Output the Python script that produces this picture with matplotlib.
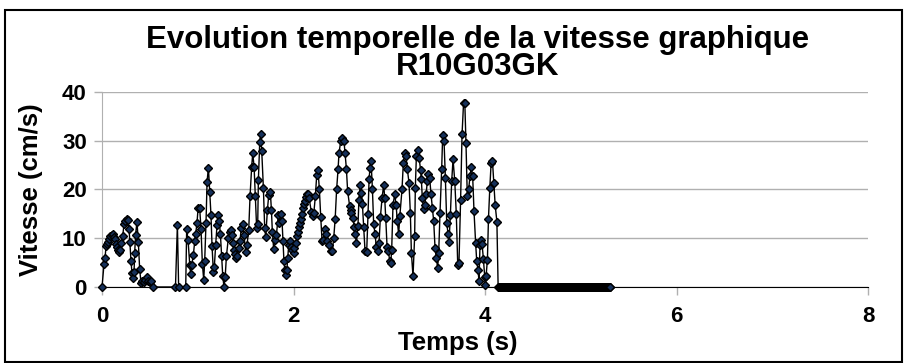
import numpy as np
import matplotlib
matplotlib.use("Agg")
import matplotlib.pyplot as plt
from matplotlib.patches import Rectangle

plt.rcParams['font.family'] = ['Liberation Sans', 'DejaVu Sans']
plt.rcParams['font.weight'] = 'bold'

# points (temps en s, vitesse en cm/s)
temps = [
    0.0, 0.021, 0.031, 0.042, 0.052, 0.063, 0.073, 0.087, 0.101, 0.111, 0.122, 0.132,
    0.143, 0.157, 0.167, 0.178, 0.191, 0.202, 0.216, 0.230, 0.244, 0.258, 0.268, 0.282,
    0.291, 0.302, 0.313, 0.324, 0.334, 0.341, 0.350, 0.365, 0.379, 0.393, 0.407, 0.418,
    0.435, 0.452, 0.470, 0.480, 0.498, 0.515, 0.532,
    0.767, 0.787, 0.800,
    0.874, 0.884, 0.898, 0.916, 0.926, 0.937, 0.954, 0.968, 0.978, 0.992, 1.003, 1.020,
    1.034, 1.048, 1.062, 1.072, 1.086, 1.097, 1.111, 1.125, 1.138, 1.149, 1.163, 1.173,
    1.187, 1.201, 1.211, 1.224, 1.236, 1.249, 1.261, 1.274, 1.286, 1.299, 1.319, 1.337,
    1.344, 1.354, 1.368, 1.379, 1.393, 1.403, 1.413, 1.427, 1.441, 1.455, 1.469, 1.483,
    1.500, 1.514, 1.532, 1.546, 1.563, 1.574, 1.588, 1.601, 1.615, 1.626, 1.633, 1.647,
    1.657, 1.668, 1.685, 1.699, 1.710, 1.727, 1.741, 1.758, 1.769, 1.779, 1.793, 1.803,
    1.821, 1.841, 1.852, 1.866, 1.880, 1.890, 1.900, 1.910, 1.920, 1.930, 1.940, 1.950,
    1.960, 1.970, 1.985, 2.000, 2.010, 2.030, 2.040, 2.050, 2.060, 2.070, 2.080, 2.090,
    2.100, 2.110, 2.120, 2.130, 2.140, 2.150, 2.162, 2.186, 2.200, 2.212, 2.228, 2.242,
    2.256, 2.270, 2.284, 2.298, 2.312, 2.325, 2.340, 2.354, 2.370, 2.388, 2.405, 2.420,
    2.435, 2.450, 2.465, 2.475, 2.493, 2.507, 2.527, 2.538, 2.552, 2.565, 2.586, 2.597,
    2.604, 2.621, 2.635, 2.645, 2.656, 2.673, 2.683, 2.697, 2.708, 2.719, 2.733, 2.747,
    2.764, 2.778, 2.789, 2.799, 2.810, 2.824, 2.837, 2.851, 2.865, 2.879, 2.893, 2.907,
    2.925, 2.942, 2.952, 2.963, 2.977, 2.991, 3.005, 3.015, 3.025, 3.039, 3.057, 3.071,
    3.084, 3.098, 3.110, 3.133, 3.147, 3.161, 3.175, 3.189, 3.206, 3.220, 3.231, 3.248,
    3.265, 3.272, 3.283, 3.297, 3.311, 3.328, 3.335, 3.345, 3.359, 3.370, 3.384, 3.398,
    3.408, 3.422, 3.436, 3.450, 3.464, 3.478, 3.492, 3.505, 3.516, 3.530, 3.547, 3.558,
    3.572, 3.586, 3.600, 3.614, 3.624, 3.638, 3.652, 3.666, 3.684, 3.700, 3.715, 3.728,
    3.745, 3.760, 3.776, 3.789, 3.801, 3.815, 3.829, 3.843, 3.857, 3.871, 3.885, 3.902,
    3.913, 3.927, 3.937, 3.948, 3.962, 3.969, 3.983, 3.997, 4.004, 4.011, 4.025, 4.036,
    4.050, 4.064, 4.078, 4.092, 4.106, 4.124,
]
vitesse = [
    0.0, 4.8, 5.9, 8.4, 8.8, 9.3, 9.8, 10.5, 10.7, 10.8, 10.3, 9.8,
    8.8, 8.1, 7.5, 7.2, 7.5, 9.1, 10.5, 12.9, 13.6, 13.9, 13.8, 11.8,
    9.2, 5.4, 2.9, 1.8, 3.0, 7.0, 10.7, 13.4, 9.2, 3.7, 0.8, 1.2,
    1.0, 1.5, 2.0, 1.2, 1.0, 1.3, 0.0,
    0.0, 12.8, 0.0,
    0.0, 11.9, 9.7, 4.6, 2.7, 4.6, 6.6, 9.4, 10.9, 13.2, 16.1, 16.1,
    11.8, 4.7, 1.5, 5.3, 13.2, 21.6, 24.5, 19.5, 14.7, 8.4, 3.0, 4.2,
    8.7, 12.7, 14.7, 13.6, 10.9, 6.3, 2.2, 0.0, 2.0, 6.3, 10.0, 11.3,
    11.6, 10.6, 9.0, 7.5, 6.8, 6.0, 6.3, 8.0, 9.5, 12.2, 12.9, 10.7,
    7.1, 8.6, 11.7, 18.7, 24.7, 27.4, 24.7, 18.7, 12.0, 13.0, 22.0, 29.7,
    31.4, 27.9, 20.4, 12.0, 10.3, 15.8, 18.8, 19.4, 15.8, 11.3, 7.7, 9.6,
    10.6, 14.8, 13.2, 15.0, 13.5, 9.5, 5.3, 3.4, 2.4, 3.4, 6.0, 8.7,
    9.4, 8.2, 7.5, 7.0, 8.0, 9.0, 10.4, 11.3, 12.3, 13.2, 14.0, 15.0,
    16.2, 17.1, 17.7, 18.4, 19.1, 19.1, 18.3, 15.4, 14.5, 15.2, 18.6, 22.9,
    23.9, 20.0, 14.4, 9.4, 9.7, 11.8, 10.9, 9.4, 8.7, 7.3, 7.3, 10.1,
    14.0, 20.0, 24.1, 27.5, 29.9, 30.6, 29.9, 27.5, 24.3, 19.7, 16.6, 15.7,
    15.2, 14.2, 12.3, 10.8, 9.0, 12.5, 17.9, 21.0, 19.3, 17.1, 12.3, 7.3,
    7.2, 14.9, 22.1, 24.5, 25.8, 20.0, 12.9, 10.9, 8.2, 7.3, 9.0, 14.3,
    18.3, 21.0, 18.3, 14.2, 8.2, 7.3, 5.3, 4.9, 7.5, 16.9, 19.0, 16.9,
    13.5, 10.8, 14.5, 20.0, 25.5, 27.5, 26.8, 24.1, 21.4, 15.2, 7.0, 2.2,
    10.4, 20.3, 26.8, 28.0, 26.5, 23.9, 22.1, 18.3, 15.9, 16.8, 19.0, 21.7,
    23.2, 22.3, 19.0, 16.2, 13.5, 8.0, 6.0, 3.8, 7.0, 15.2, 24.1, 31.2,
    29.9, 22.3, 13.2, 10.9, 9.2, 14.7, 21.7, 26.2, 21.7, 15.0, 4.6, 5.0,
    17.9, 31.3, 37.8, 37.8, 29.6, 18.6, 20.0, 22.7, 24.6, 22.7, 15.5, 9.0,
    5.4, 3.4, 1.3, 8.7, 9.7, 8.8, 5.8, 2.0, 0.5, 2.2, 5.6, 14.0,
    20.3, 25.5, 25.8, 21.4, 16.8, 13.4,
]
# stylo immobile : vitesse nulle de 4.14 s a 5.31 s
pause_debut = 4.137
pause_fin = 5.31

t_pause = np.arange(pause_debut, pause_fin, 0.005)
t_all = np.concatenate([temps, t_pause])
v_all = np.concatenate([vitesse, np.zeros(len(t_pause))])

fig = plt.figure(figsize=(9.07, 3.63), dpi=100)
ax = fig.add_axes([0.1125, 0.2094, 0.8445, 0.5372])

ax.plot(t_all, v_all, color='black', linewidth=1, marker='D', markersize=4.5,
        markerfacecolor='#15305a', markeredgecolor='black', markeredgewidth=1,
        zorder=3, clip_on=False)

ax.set_xlim(0, 8)
ax.set_ylim(0, 40)
ax.set_xticks([0, 2, 4, 6, 8])
ax.set_yticks([0, 10, 20, 30, 40])
ax.grid(axis='y', color='#b0b0b0', linewidth=1)
ax.set_axisbelow(True)
for s in ['top', 'right']:
    ax.spines[s].set_visible(False)
ax.spines['left'].set_color('#b0b0b0')
ax.spines['bottom'].set_color('black')
ax.tick_params(axis='both', direction='out', length=6, color='#b0b0b0',
               labelsize=16, width=1)
ax.tick_params(axis='x', pad=8)
ax.tick_params(axis='y', pad=5)

ax.set_xlabel('Temps (s)', fontsize=18.5, fontweight='bold')
ax.xaxis.set_label_coords(0.465, -0.228)
ax.xaxis.label.set_va('top')
ax.set_ylabel('Vitesse (cm/s)', fontsize=18.5, fontweight='bold', labelpad=14)
ax.set_title('Evolution temporelle de la vitesse graphique\nR10G03GK',
             fontsize=22.5, fontweight='bold', linespacing=0.9, pad=12, x=0.49)

fig.add_artist(Rectangle((0.006, 0.004), 0.988, 0.969, transform=fig.transFigure,
                         fill=False, edgecolor='black', linewidth=1.5))

fig.savefig('out.png', dpi=100)
